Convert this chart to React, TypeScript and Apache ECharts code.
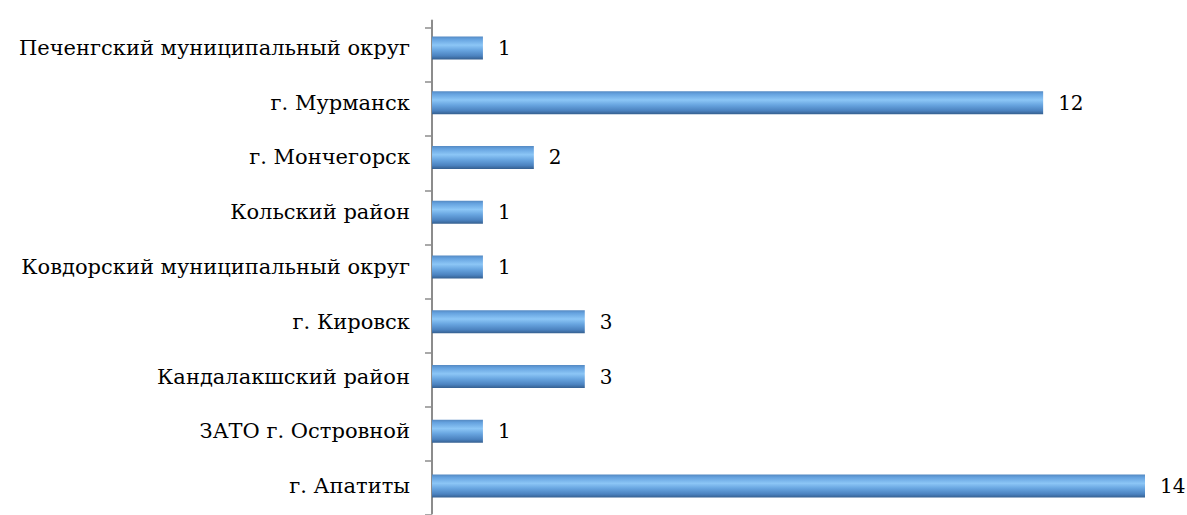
import React, { useEffect, useRef } from "react";
import * as echarts from "echarts";

const categories = [
  "Печенгский муниципальный округ",
  "г. Мурманск",
  "г. Мончегорск",
  "Кольский район",
  "Ковдорский муниципальный округ",
  "г. Кировск",
  "Кандалакшский район",
  "ЗАТО г. Островной",
  "г. Апатиты",
];
const values = [1, 12, 2, 1, 1, 3, 3, 1, 14];

const FONT = "DejaVu Serif";

export default function App() {
  const ref = useRef<HTMLDivElement>(null);
  useEffect(() => {
    if (!ref.current) return;
    const chart = echarts.init(ref.current, null, { renderer: "svg" });
    const barColor = new echarts.graphic.LinearGradient(0, 0, 0, 1, [
      { offset: 0, color: "#5489c2" },
      { offset: 0.12, color: "#65a2df" },
      { offset: 0.38, color: "#8cc6f6" },
      { offset: 0.6, color: "#68a5e0" },
      { offset: 0.85, color: "#4b82bf" },
      { offset: 1, color: "#355f8f" },
    ]);
    chart.setOption({
      animation: false,
      textStyle: { fontFamily: FONT },
      grid: [
        { left: 432, right: 42, top: 20.5, height: 493, containLabel: false },
        { left: 432, right: 42, top: 28, height: 490.5, containLabel: false },
      ],
      xAxis: [
        { type: "value", gridIndex: 0, min: 0, max: 14, show: false },
        { type: "value", gridIndex: 1, min: 0, max: 14, show: false },
      ],
      yAxis: [
        {
          type: "category",
          gridIndex: 0,
          data: categories,
          inverse: true,
          axisLine: { show: true, lineStyle: { color: "#8c8c8c", width: 2 } },
          axisTick: { show: false },
          axisLabel: {
            color: "#000",
            fontFamily: FONT,
            fontSize: 21,
            margin: 22,
          },
          splitLine: { show: false },
        },
        {
          type: "category",
          gridIndex: 1,
          data: categories,
          inverse: true,
          axisLine: { show: false },
          axisTick: { show: true, length: 7, lineStyle: { color: "#8c8c8c", width: 1.5 } },
          axisLabel: { show: false },
          splitLine: { show: false },
        },
      ],
      series: [
        {
          type: "bar",
          xAxisIndex: 0,
          yAxisIndex: 0,
          data: values,
          barWidth: 23,
          itemStyle: { color: barColor },
          label: {
            show: true,
            position: "right",
            distance: 15,
            color: "#000",
            fontFamily: FONT,
            fontSize: 20,
          },
        },
      ],
    });
    return () => chart.dispose();
  }, []);
  return <div ref={ref} style={{ width: 1187, height: 515, position: "absolute", left: 0, top: 0 }} />;
}
